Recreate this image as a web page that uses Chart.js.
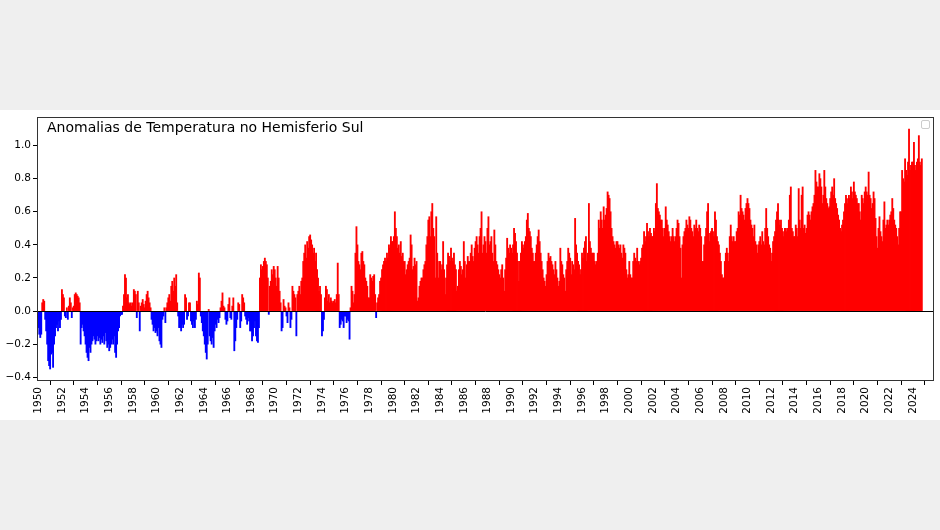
<!DOCTYPE html>
<html>
<head>
<meta charset="utf-8">
<script src="https://cdn.jsdelivr.net/npm/chart.js@4.4.0/dist/chart.umd.min.js"></script>
<style>
  html, body { margin: 0; padding: 0; background: #efefef; }
  #grafico { display: block; }
</style>
</head>
<body>
<canvas id="grafico" width="940" height="530"></canvas>
<script>
// anomalias mensais (°C), uma linha por ano, jan..dez
var anoInicial = 1950;
var anom1950s = [
  -0.1,-0.14,-0.16,-0.14,0.05,0.07,0.06,-0.05,-0.12,-0.2,-0.3,-0.33,
  -0.35,-0.26,-0.25,-0.34,-0.2,-0.15,-0.1,-0.08,-0.12,-0.06,-0.1,-0.05,
  0.13,0.1,0.08,-0.03,-0.04,0.02,-0.05,0.03,0.08,0.05,-0.04,0.02,
  0.03,0.1,0.11,0.1,0.09,0.08,0.05,-0.2,-0.1,-0.08,-0.12,-0.15,
  -0.2,-0.25,-0.28,-0.3,-0.22,-0.25,-0.2,-0.18,-0.15,-0.17,-0.2,-0.18,
  -0.15,-0.18,-0.16,-0.2,-0.17,-0.19,-0.15,-0.2,-0.13,-0.18,-0.22,-0.2,
  -0.24,-0.22,-0.2,-0.17,-0.2,-0.15,-0.25,-0.28,-0.2,-0.12,-0.1,-0.03,
  -0.02,-0.02,0.03,0.1,0.22,0.2,0.08,0.1,0.05,0.04,0.05,0.03,
  0.05,0.13,0.12,0.1,-0.04,0.12,0.05,-0.12,0.03,0.05,0.07,0.04,
  0.02,0.06,0.1,0.12,0.08,0.05,0.02,-0.05,-0.08,-0.12,-0.1,-0.13
];
var anom1960s = [
  -0.12,-0.15,-0.1,-0.18,-0.2,-0.22,-0.05,-0.03,0.02,-0.07,0.02,0.05,
  0.08,0.1,0.06,0.15,0.18,0.12,0.2,0.15,0.22,0.05,-0.03,-0.1,
  -0.1,-0.12,-0.08,-0.1,-0.08,0.1,0.08,-0.05,-0.03,0.05,0.05,-0.06,
  -0.08,-0.1,-0.06,-0.1,-0.05,0.06,0.04,0.23,0.2,-0.03,-0.07,-0.12,
  -0.15,-0.2,-0.25,-0.29,-0.2,0.01,-0.15,-0.18,-0.2,-0.16,-0.22,-0.12,
  -0.08,-0.1,-0.05,-0.07,-0.04,0.02,0.06,0.11,0.03,0.02,-0.05,-0.08,
  -0.06,0.04,0.08,-0.04,-0.05,0.03,0.08,-0.24,-0.18,-0.1,-0.05,0.05,
  0.04,-0.1,-0.06,0.1,0.08,0.05,-0.03,-0.05,-0.08,-0.04,-0.06,-0.12,
  -0.12,-0.18,-0.15,-0.1,-0.06,-0.15,-0.18,-0.19,-0.1,0.2,0.28,0.25,
  0.27,0.3,0.32,0.3,0.28,0.2,-0.02,0.15,0.18,0.25,0.22,0.27
];
var anom1970s = [
  0.25,0.2,0.15,0.27,0.2,0.12,0.05,-0.12,-0.1,0.07,0.03,0.02,
  -0.03,-0.07,0.05,0.02,-0.1,-0.05,0.15,0.12,0.1,0.08,-0.15,0.1,
  0.12,0.15,0.1,0.18,0.2,0.3,0.35,0.4,0.32,0.42,0.38,0.45,
  0.46,0.43,0.4,0.35,0.38,0.3,0.35,0.25,0.2,0.12,0.15,0.1,
  -0.15,-0.12,-0.05,0.08,0.15,0.13,0.06,0.1,0.05,0.08,0.06,0.05,
  0.06,0.07,0.05,0.1,0.29,0.1,-0.1,-0.08,-0.05,-0.06,-0.1,-0.03,
  -0.03,-0.07,-0.05,-0.06,-0.17,0.02,0.15,0.12,0.05,0.1,0.35,0.51,
  0.4,0.3,0.28,0.25,0.35,0.36,0.3,0.28,0.2,0.18,0.15,0.08,
  0.08,0.22,0.2,0.18,0.21,0.22,0.1,-0.04,0.05,0.08,0.1,0.18,
  0.2,0.25,0.28,0.3,0.32,0.3,0.35,0.32,0.4,0.38,0.45,0.42
];
var anom1980s = [
  0.42,0.45,0.6,0.5,0.45,0.38,0.4,0.35,0.42,0.33,0.35,0.3,
  0.3,0.22,0.25,0.28,0.3,0.32,0.46,0.4,0.25,0.27,0.32,0.28,
  0.3,0.06,0.08,0.15,0.18,0.2,0.2,0.25,0.28,0.3,0.4,0.45,
  0.55,0.57,0.45,0.6,0.65,0.5,0.45,0.2,0.57,0.35,0.2,0.3,
  0.3,0.25,0.28,0.42,0.25,0.1,0.2,0.28,0.35,0.33,0.3,0.38,
  0.32,0.3,0.35,0.28,0.25,0.12,0.15,0.25,0.3,0.27,0.22,0.25,
  0.42,0.3,0.2,0.28,0.33,0.3,0.3,0.35,0.4,0.33,0.3,0.38,
  0.42,0.45,0.4,0.35,0.45,0.5,0.6,0.35,0.4,0.45,0.42,0.35,
  0.5,0.57,0.4,0.42,0.45,0.35,0.3,0.49,0.4,0.3,0.28,0.25,
  0.22,0.2,0.25,0.28,0.2,0.12,0.25,0.32,0.44,0.38,0.35,0.4
];
var anom1990s = [
  0.38,0.35,0.4,0.5,0.47,0.42,0.35,0.3,0.18,0.3,0.35,0.42,
  0.4,0.38,0.42,0.45,0.55,0.59,0.5,0.48,0.45,0.38,0.35,0.3,
  0.3,0.35,0.4,0.45,0.49,0.42,0.35,0.3,0.25,0.2,0.18,0.15,
  0.22,0.3,0.35,0.32,0.33,0.3,0.28,0.25,0.22,0.3,0.25,0.2,
  0.15,0.18,0.38,0.3,0.28,0.22,0.2,0.12,0.25,0.3,0.38,0.35,
  0.32,0.22,0.3,0.28,0.25,0.56,0.4,0.35,0.3,0.28,0.22,0.25,
  0.35,0.32,0.38,0.42,0.45,0.3,0.35,0.65,0.42,0.38,0.35,0.35,
  0.35,0.3,0.28,0.3,0.35,0.55,0.5,0.6,0.55,0.5,0.63,0.55,
  0.58,0.62,0.72,0.7,0.68,0.6,0.5,0.45,0.42,0.4,0.38,0.42,
  0.42,0.4,0.38,0.4,0.35,0.32,0.4,0.38,0.35,0.25,0.2,0.22
];
var anom2000s = [
  0.3,0.22,0.2,0.2,0.3,0.35,0.32,0.3,0.38,0.3,0.28,0.3,
  0.32,0.38,0.4,0.48,0.42,0.45,0.53,0.48,0.45,0.5,0.47,0.45,
  0.45,0.5,0.48,0.65,0.77,0.62,0.6,0.58,0.55,0.55,0.5,0.45,
  0.5,0.63,0.55,0.52,0.48,0.45,0.42,0.45,0.5,0.45,0.42,0.45,
  0.5,0.55,0.53,0.45,0.38,0.2,0.4,0.45,0.48,0.5,0.55,0.52,
  0.5,0.57,0.55,0.5,0.48,0.45,0.52,0.5,0.55,0.5,0.48,0.52,
  0.5,0.45,0.3,0.3,0.4,0.45,0.5,0.6,0.65,0.42,0.47,0.48,
  0.5,0.48,0.45,0.6,0.55,0.45,0.42,0.4,0.35,0.3,0.22,0.2,
  0.2,0.3,0.35,0.38,0.35,0.3,0.45,0.52,0.45,0.42,0.45,0.42,
  0.42,0.48,0.5,0.6,0.58,0.7,0.62,0.6,0.58,0.55,0.62,0.65
];
var anom2010s = [
  0.68,0.65,0.62,0.55,0.52,0.5,0.45,0.52,0.42,0.4,0.35,0.4,
  0.42,0.45,0.4,0.48,0.42,0.4,0.5,0.62,0.5,0.45,0.4,0.38,
  0.3,0.35,0.42,0.45,0.48,0.55,0.6,0.65,0.55,0.52,0.55,0.5,
  0.48,0.45,0.5,0.5,0.48,0.5,0.55,0.7,0.75,0.5,0.48,0.45,
  0.45,0.52,0.5,0.45,0.74,0.55,0.5,0.7,0.75,0.5,0.52,0.47,
  0.5,0.58,0.6,0.58,0.55,0.6,0.63,0.65,0.7,0.85,0.78,0.75,
  0.75,0.83,0.8,0.75,0.65,0.7,0.85,0.75,0.68,0.65,0.62,0.63,
  0.68,0.72,0.75,0.7,0.8,0.68,0.65,0.62,0.58,0.55,0.5,0.48,
  0.52,0.55,0.6,0.65,0.7,0.68,0.65,0.7,0.68,0.75,0.72,0.68,
  0.78,0.72,0.7,0.68,0.65,0.65,0.6,0.55,0.7,0.68,0.65,0.72
];
var anom2020s = [
  0.75,0.72,0.7,0.84,0.7,0.68,0.62,0.65,0.72,0.68,0.56,0.45,
  0.38,0.5,0.57,0.48,0.45,0.42,0.55,0.66,0.5,0.52,0.55,0.52,
  0.55,0.58,0.6,0.68,0.62,0.55,0.52,0.5,0.45,0.4,0.5,0.6,
  0.6,0.85,0.8,0.78,0.92,0.85,0.82,0.9,1.1,0.85,0.88,0.9,
  0.9,1.02,0.88,0.85,0.9,0.92,1.06,0.9,0.88,0.92
];

var xTicks = [1950,1952,1954,1956,1958,1960,1962,1964,1966,1968,1970,1972,1974,1976,1978,
  1980,1982,1984,1986,1988,1990,1992,1994,1996,1998,2000,2002,2004,2006,2008,2010,2012,
  2014,2016,2018,2020,2022,2024];
var yTicks = [-0.4, -0.2, 0.0, 0.2, 0.4, 0.6, 0.8, 1.0];
var titulo = 'Anomalias de Temperatura no Hemisferio Sul';

var valores = [].concat(anom1950s, anom1960s, anom1970s, anom1980s, anom1990s, anom2000s, anom2010s, anom2020s);
var pontos = valores.map(function (v, i) { return { x: anoInicial + i / 12, y: v }; });

var fundo = {
  id: 'fundo',
  beforeDraw: function (chart) {
    var ctx = chart.ctx;
    ctx.save();
    ctx.fillStyle = '#efefef';
    ctx.fillRect(0, 0, chart.width, chart.height);
    ctx.fillStyle = '#ffffff';
    ctx.fillRect(0, 110, chart.width, 310);
    ctx.restore();
  }
};

var moldura = {
  id: 'moldura',
  afterDatasetsDraw: function (chart) {
    var ctx = chart.ctx, a = chart.chartArea;
    var y0 = chart.scales.y.getPixelForValue(0);
    ctx.save();
    ctx.strokeStyle = '#000';
    ctx.lineWidth = 1;
    ctx.beginPath();
    ctx.moveTo(a.left, Math.round(y0) + 0.5);
    ctx.lineTo(a.right, Math.round(y0) + 0.5);
    ctx.stroke();
    ctx.strokeStyle = '#333';
    ctx.strokeRect(a.left + 0.5, a.top + 0.5, a.right - a.left - 1, a.bottom - a.top - 1);
    // titulo dentro do eixo
    ctx.fillStyle = '#000';
    ctx.font = '14px "DejaVu Sans"';
    ctx.textBaseline = 'alphabetic';
    ctx.fillText(titulo, a.left + 10, a.top + 15);
    // caixa de legenda vazia
    ctx.fillStyle = '#fff';
    ctx.strokeStyle = '#cccccc';
    ctx.beginPath();
    ctx.roundRect(a.right - 12.5, a.top + 3.5, 8, 8, 1.5);
    ctx.fill();
    ctx.stroke();
    ctx.restore();
  }
};

new Chart(document.getElementById('grafico'), {
  type: 'bar',
  data: {
    datasets: [{
      data: pontos,
      backgroundColor: function (c) { return c.raw && c.raw.y < 0 ? '#0000ff' : '#ff0000'; },
      borderWidth: 0,
      barThickness: 1.2
    }]
  },
  options: {
    responsive: false,
    animation: false,
    devicePixelRatio: 1,
    layout: { padding: { left: 0, right: 6, top: 117, bottom: 0 } },
    plugins: { legend: { display: false }, tooltip: { enabled: false }, title: { display: false } },
    scales: {
      x: {
        type: 'linear',
        min: 1949.89,
        max: 2025.78,
        offset: false,
        afterBuildTicks: function (s) { s.ticks = xTicks.map(function (v) { return { value: v }; }); },
        afterFit: function (s) { s.height = 149; },
        grid: { drawOnChartArea: false, drawTicks: true, tickLength: 4, color: '#000' },
        border: { display: false },
        ticks: {
          autoSkip: false, maxRotation: 90, minRotation: 90, padding: 2,
          color: '#000', font: { family: 'DejaVu Sans', size: 10.5 },
          callback: function (v) { return String(v); }
        }
      },
      y: {
        min: -0.4225,
        max: 1.1725,
        afterBuildTicks: function (s) { s.ticks = yTicks.map(function (v) { return { value: v }; }); },
        afterFit: function (s) { s.width = 37; },
        grid: { drawOnChartArea: false, drawTicks: true, tickLength: 4, color: '#000' },
        border: { display: false },
        ticks: {
          padding: 2, color: '#000', font: { family: 'DejaVu Sans', size: 10.5 },
          callback: function (v) { return v.toFixed(1).replace('-', '\u2212'); }
        }
      }
    }
  },
  plugins: [fundo, moldura]
});
</script>
</body>
</html>
